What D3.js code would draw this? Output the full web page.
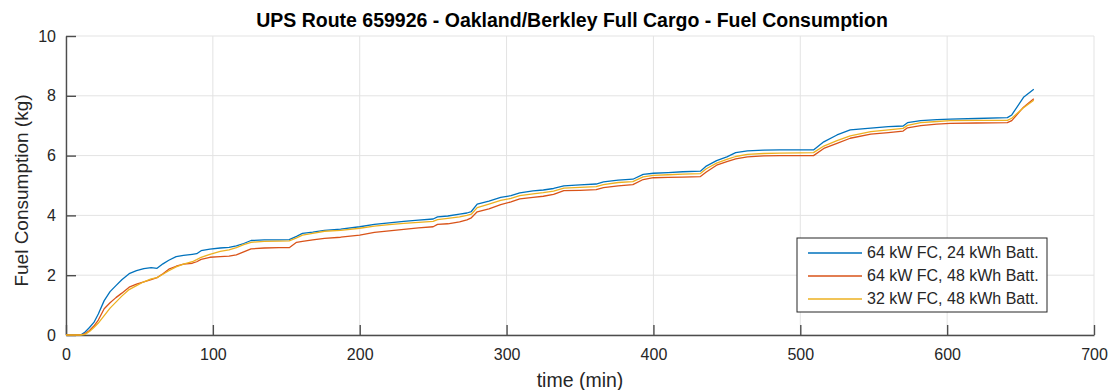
<!DOCTYPE html>
<html>
<head>
<meta charset="utf-8">
<script src="https://cdn.jsdelivr.net/npm/d3@7"></script>
<style>
    body { margin: 0; background: #fff; }
    svg { font-family: "Liberation Sans", Arial, sans-serif; }
</style>
</head>
<body>
<svg id="chart" width="1110" height="390"></svg>
<script>
const timeMin = [0, 10, 13, 16, 19, 22, 26, 30, 34, 38, 43, 48, 53, 58, 62, 66, 70, 75, 80, 86, 89, 92, 98, 105,
    111, 116, 121, 126, 135, 145, 152, 157, 161, 168, 176, 187, 200, 210, 220, 230, 240, 250, 253, 260, 268, 273,
    276, 280, 288, 296, 303, 309, 318, 325, 332, 339, 350, 361, 366, 376, 386, 393, 400, 410, 420, 432, 436, 443,
    450, 456, 464, 475, 486, 500, 509, 516, 525, 534, 548, 560, 570, 573, 582, 593, 602, 620, 641, 644, 652, 659];

const fc64batt24 = [0, 0, 0.1, 0.25, 0.42, 0.7, 1.15, 1.45, 1.65, 1.85, 2.05, 2.15, 2.22, 2.25, 2.23, 2.38, 2.5, 2.62,
    2.66, 2.7, 2.72, 2.82, 2.87, 2.91, 2.93, 2.98, 3.06, 3.16, 3.18, 3.18, 3.19, 3.3, 3.4, 3.44, 3.5, 3.54, 3.62, 3.7,
    3.75, 3.8, 3.84, 3.88, 3.95, 3.98, 4.04, 4.08, 4.13, 4.38, 4.48, 4.6, 4.66, 4.75, 4.82, 4.85, 4.9, 4.99, 5.02,
    5.05, 5.12, 5.18, 5.21, 5.37, 5.41, 5.43, 5.46, 5.48, 5.65, 5.83, 5.96, 6.1, 6.16, 6.18, 6.19, 6.19, 6.19, 6.46,
    6.69, 6.86, 6.92, 6.97, 6.99, 7.1, 7.17, 7.2, 7.22, 7.24, 7.27, 7.36, 7.95, 8.22];

const fc64batt48 = [0, 0, 0.05, 0.15, 0.3, 0.5, 0.88, 1.08, 1.25, 1.4, 1.6, 1.7, 1.78, 1.85, 1.92, 2.05, 2.2, 2.3,
    2.37, 2.4, 2.45, 2.53, 2.6, 2.62, 2.64, 2.68, 2.78, 2.88, 2.91, 2.92, 2.92, 3.1, 3.13, 3.18, 3.23, 3.27, 3.34,
    3.43, 3.48, 3.53, 3.58, 3.62, 3.7, 3.72, 3.78, 3.85, 3.92, 4.12, 4.22, 4.36, 4.45, 4.55, 4.6, 4.64, 4.7, 4.83,
    4.84, 4.86, 4.93, 4.99, 5.03, 5.2, 5.26, 5.27, 5.28, 5.3, 5.45, 5.68, 5.8, 5.89, 5.96, 5.99, 6.0, 6.0, 6.0, 6.24,
    6.41, 6.58, 6.72, 6.77, 6.82, 6.93, 7.0, 7.05, 7.08, 7.09, 7.1, 7.17, 7.62, 7.9];

const fc32batt48 = [0, 0, 0.02, 0.12, 0.25, 0.4, 0.65, 0.9, 1.1, 1.3, 1.52, 1.65, 1.78, 1.88, 1.92, 2.03, 2.15, 2.28,
    2.37, 2.45, 2.52, 2.6, 2.7, 2.8, 2.85, 2.92, 3.02, 3.1, 3.13, 3.14, 3.15, 3.25, 3.34, 3.4, 3.47, 3.5, 3.57, 3.64,
    3.69, 3.73, 3.77, 3.8, 3.86, 3.9, 3.95, 4.0, 4.04, 4.26, 4.38, 4.5, 4.57, 4.66, 4.72, 4.76, 4.81, 4.91, 4.94,
    4.96, 5.03, 5.1, 5.13, 5.29, 5.34, 5.36, 5.38, 5.4, 5.56, 5.75, 5.87, 5.97, 6.04, 6.07, 6.08, 6.09, 6.1, 6.32,
    6.5, 6.66, 6.8, 6.86, 6.91, 7.01, 7.1, 7.14, 7.17, 7.18, 7.18, 7.25, 7.6, 7.85];

const seriesNames = ['64 kW FC, 24 kWh Batt.', '64 kW FC, 48 kWh Batt.', '32 kW FC, 48 kWh Batt.'];
const seriesColors = ['#0072BD', '#D95319', '#EDB120'];
const xTicks = [0, 100, 200, 300, 400, 500, 600, 700];
const yTicks = [0, 2, 4, 6, 8, 10];

function drawChart() {
    const svg = d3.select('#chart');
    const left = 66, right = 1094, top = 36, bottom = 335;

    const x = d3.scaleLinear().domain([0, 700]).range([left, right]);
    const y = d3.scaleLinear().domain([0, 10]).range([bottom, top]);

    // grid
    svg.append('g').selectAll('line.vgrid')
        .data(xTicks)
        .enter().append('line')
        .attr('x1', d => x(d)).attr('x2', d => x(d))
        .attr('y1', top).attr('y2', bottom)
        .attr('stroke', '#e3e3e3').attr('stroke-width', 1);
    svg.append('g').selectAll('line.hgrid')
        .data(yTicks)
        .enter().append('line')
        .attr('x1', left).attr('x2', right)
        .attr('y1', d => y(d)).attr('y2', d => y(d))
        .attr('stroke', '#e3e3e3').attr('stroke-width', 1);

    // axes, ticks pointing inward like matlab
    const xAxis = svg.append('g')
        .attr('transform', `translate(0,${bottom})`)
        .call(d3.axisBottom(x).tickValues(xTicks).tickSizeInner(-10).tickSizeOuter(0).tickPadding(14));
    const yAxis = svg.append('g')
        .attr('transform', `translate(${left},0)`)
        .call(d3.axisLeft(y).tickValues(yTicks).tickSizeInner(-10).tickSizeOuter(0).tickPadding(10));

    [xAxis, yAxis].forEach(ax => {
        ax.select('.domain').attr('stroke', '#4d4d4d').attr('stroke-width', 1.4);
        ax.selectAll('.tick line').attr('stroke', '#4d4d4d').attr('stroke-width', 1.4);
        ax.selectAll('.tick text')
            .attr('fill', '#262626')
            .style('font-size', '16px')
            .style('font-family', '"Liberation Sans", Arial, sans-serif');
    });

    // lines
    const allSeries = [fc64batt24, fc64batt48, fc32batt48];
    const line = d3.line()
        .x((d, i) => x(timeMin[i]))
        .y(d => y(d));

    allSeries.forEach((values, k) => {
        svg.append('path')
            .datum(values)
            .attr('d', line)
            .attr('fill', 'none')
            .attr('stroke', seriesColors[k])
            .attr('stroke-width', 1.3)
            .attr('stroke-linejoin', 'round');
    });

    // title and labels
    svg.append('text')
        .attr('x', 572)
        .attr('y', 27)
        .attr('text-anchor', 'middle')
        .attr('font-weight', 'bold')
        .attr('font-size', 19.5)
        .attr('fill', '#000')
        .text('UPS Route 659926 - Oakland/Berkley Full Cargo - Fuel Consumption');

    svg.append('text')
        .attr('x', 580)
        .attr('y', 387)
        .attr('text-anchor', 'middle')
        .attr('font-size', 19.5)
        .attr('fill', '#262626')
        .text('time (min)');

    svg.append('text')
        .attr('transform', `translate(28,${(top + bottom) / 2 + 5}) rotate(-90)`)
        .attr('text-anchor', 'middle')
        .attr('font-size', 19)
        .attr('fill', '#262626')
        .text('Fuel Consumption (kg)');

    // legend
    const legend = svg.append('g').attr('transform', 'translate(797,238)');
    legend.append('rect')
        .attr('width', 250).attr('height', 74)
        .attr('fill', '#fff')
        .attr('stroke', '#262626').attr('stroke-width', 1);

    seriesNames.forEach((name, k) => {
        const rowY = 15 + k * 23;
        legend.append('line')
            .attr('x1', 11).attr('x2', 65)
            .attr('y1', rowY).attr('y2', rowY)
            .attr('stroke', seriesColors[k])
            .attr('stroke-width', 1.3);
        legend.append('text')
            .attr('x', 70).attr('y', rowY + 5)
            .attr('font-size', 16)
            .attr('fill', '#262626')
            .text(name);
    });
}

drawChart();
</script>
</body>
</html>
